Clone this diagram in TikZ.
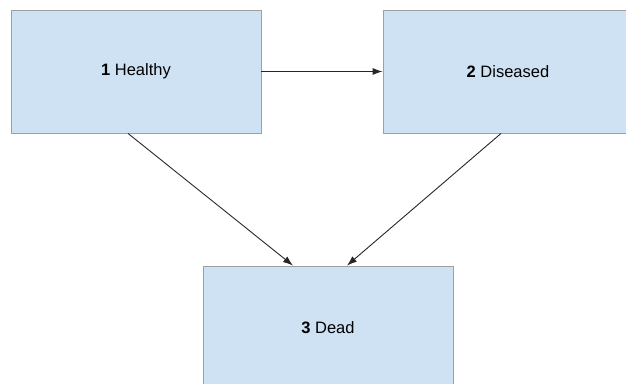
\documentclass[tikz,border=0pt]{standalone}
\usepackage{fontspec}
\setmainfont{Liberation Sans}
\usetikzlibrary{arrows.meta}
\definecolor{boxfill}{HTML}{CFE2F3}
\definecolor{boxline}{HTML}{A0A0A0}
\tikzset{
  statebox/.style={draw=boxline,fill=boxfill,line width=0.9pt,minimum width=250pt,minimum height=123pt,font=\fontsize{16.5}{19}\selectfont},
  flow/.style={-{Latex[length=10pt,width=7pt]},line width=0.9pt,black!85}
}
\begin{document}
\begin{tikzpicture}[x=1pt,y=-1pt]
        \useasboundingbox (0,0) rectangle (626,383);
        \clip (0,0) rectangle (626,383);

        \node[statebox] at (136,71.5) (healthy) {\textbf{1} Healthy};
        \node[statebox] at (508,71.5) (diseased) {\textbf{2} Diseased};
        \node[statebox] at (328,327.5) (dead) {\textbf{3} Dead};

        \path[flow]
        (healthy) edge (diseased)
        ([xshift=-8pt]healthy.south) edge ([xshift=-35pt]dead.north)
        ([xshift=-7pt]diseased.south) edge ([xshift=19pt]dead.north)
        ;
    \end{tikzpicture}
\end{document}
